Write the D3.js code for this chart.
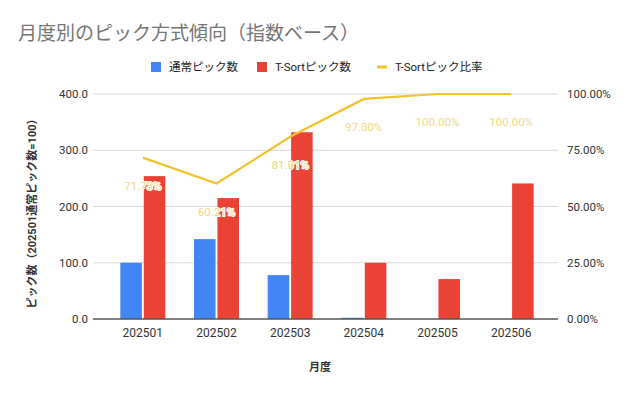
<!DOCTYPE html>
<html>
<head>
<meta charset="utf-8">
<script src="https://cdn.jsdelivr.net/npm/d3@7"></script>
<style>
  body { margin: 0; background: #fff; }
  text { font-family: Roboto, "Noto Sans CJK JP", sans-serif; }
</style>
</head>
<body>
<div id="chart"></div>
<script>
var w = 640;
var h = 395;

// data
var months = ["202501", "202502", "202503", "202504", "202505", "202506"];
var normalPicks = [100, 142, 78, 2.2, 0, 0];
var tsortPicks = [254, 215, 332, 100, 71, 241];
var tsortRatio = [71.73, 60.21, 81.01, 97.80, 100, 100];
var leftTicks = [0, 100, 200, 300, 400];
var rightTicks = [0, 25, 50, 75, 100];
var seriesNames = ["通常ピック数", "T-Sortピック数", "T-Sortピック比率"];
var colors = ["#4285f4", "#ea4335", "#f2c12e"];

var svg = d3.select("#chart").append("svg").attr("width", w).attr("height", h);

var gridLeft = 93, gridRight = 558;
var x = d3.scaleBand().domain(months).range([106, 548]);
var xs = d3.scaleBand().domain([0, 1]).range([-22.5, 22.5]).paddingInner(0.08);
var y = d3.scaleLinear().domain([0, 400]).range([319, 94]);
var y2 = d3.scaleLinear().domain([0, 100]).range([319, 94]);

// title
svg.append("text").text("月度別のピック方式傾向（指数ベース）")
  .attr("x", 18).attr("y", 40).attr("font-size", 19).attr("fill", "#757575");

// legend
var leg = [
  { name: seriesNames[0], col: colors[0], x: 151, type: "rect" },
  { name: seriesNames[1], col: colors[1], x: 257, type: "rect" },
  { name: seriesNames[2], col: colors[2], x: 377, type: "line" }
];
leg.forEach(function(d) {
  if (d.type == "rect") {
    svg.append("rect").attr("x", d.x).attr("y", 62).attr("width", 10).attr("height", 10).attr("fill", d.col);
  } else {
    svg.append("line").attr("x1", d.x).attr("x2", d.x + 10).attr("y1", 67).attr("y2", 67)
      .attr("stroke", d.col).attr("stroke-width", 3);
  }
  svg.append("text").text(d.name).attr("x", d.x + 18).attr("y", 71)
    .attr("font-size", 11.5).attr("fill", "#222");
});

// gridlines
svg.append("g").selectAll("line").data(leftTicks.slice(1)).join("line")
  .attr("x1", gridLeft).attr("x2", gridRight)
  .attr("y1", function(d) { return y(d); }).attr("y2", function(d) { return y(d); })
  .attr("stroke", "#d9d9d9").attr("stroke-width", 1);

// left axis labels
svg.append("g").selectAll("text").data(leftTicks).join("text")
  .text(function(d) { return d3.format(".1f")(d); })
  .attr("x", 88).attr("y", function(d) { return y(d) + 4; })
  .attr("text-anchor", "end").attr("font-size", 11.5).attr("fill", "#333");

// right axis labels
svg.append("g").selectAll("text").data(rightTicks).join("text")
  .text(function(d) { return d3.format(".2f")(d) + "%"; })
  .attr("x", 567).attr("y", function(d) { return y2(d) + 4; })
  .attr("font-size", 11.5).attr("fill", "#333");

// bars
var groups = svg.append("g").selectAll("g").data(months).join("g")
  .attr("transform", function(d) { return "translate(" + (x(d) + x.bandwidth() / 2) + ",0)"; });

groups.append("rect")
  .attr("x", xs(0)).attr("width", xs.bandwidth())
  .attr("y", function(d, i) { return y(normalPicks[i]); })
  .attr("height", function(d, i) { return y(0) - y(normalPicks[i]); })
  .attr("fill", colors[0]);

groups.append("rect")
  .attr("x", xs(1)).attr("width", xs.bandwidth())
  .attr("y", function(d, i) { return y(tsortPicks[i]); })
  .attr("height", function(d, i) { return y(0) - y(tsortPicks[i]); })
  .attr("fill", colors[1]);

// baseline
svg.append("line").attr("x1", gridLeft).attr("x2", gridRight)
  .attr("y1", y(0)).attr("y2", y(0)).attr("stroke", "#555").attr("stroke-width", 1.3);

// ratio line
var line = d3.line()
  .x(function(d, i) { return x(months[i]) + x.bandwidth() / 2; })
  .y(function(d) { return y2(d); });

svg.append("path").datum(tsortRatio)
  .attr("d", line).attr("fill", "none")
  .attr("stroke", colors[2]).attr("stroke-width", 2.2);

// ratio labels
svg.append("g").selectAll("text").data(tsortRatio).join("text")
  .text(function(d) { return d3.format(".2f")(d) + "%"; })
  .attr("x", function(d, i) { return x(months[i]) + x.bandwidth() / 2; })
  .attr("y", function(d) { return y2(d) + 32; })
  .attr("text-anchor", "middle").attr("font-size", 11.5)
  .attr("fill", "#efd985")
  .attr("stroke", "#fff").attr("stroke-width", 2).attr("paint-order", "stroke");

// x labels
svg.append("g").selectAll("text").data(months).join("text")
  .text(function(d) { return d; })
  .attr("x", function(d) { return x(d) + x.bandwidth() / 2; })
  .attr("y", 337).attr("text-anchor", "middle")
  .attr("font-size", 12).attr("fill", "#333");

// axis titles
svg.append("text").text("月度").attr("x", 320).attr("y", 371)
  .attr("text-anchor", "middle").attr("font-size", 11).attr("font-weight", "bold").attr("fill", "#333");

svg.append("text").text("ピック数（202501通常ピック数=100）")
  .attr("transform", "translate(36,211) rotate(-90)")
  .attr("text-anchor", "middle").attr("font-size", 11).attr("font-weight", "bold").attr("fill", "#333");
</script>
</body>
</html>
